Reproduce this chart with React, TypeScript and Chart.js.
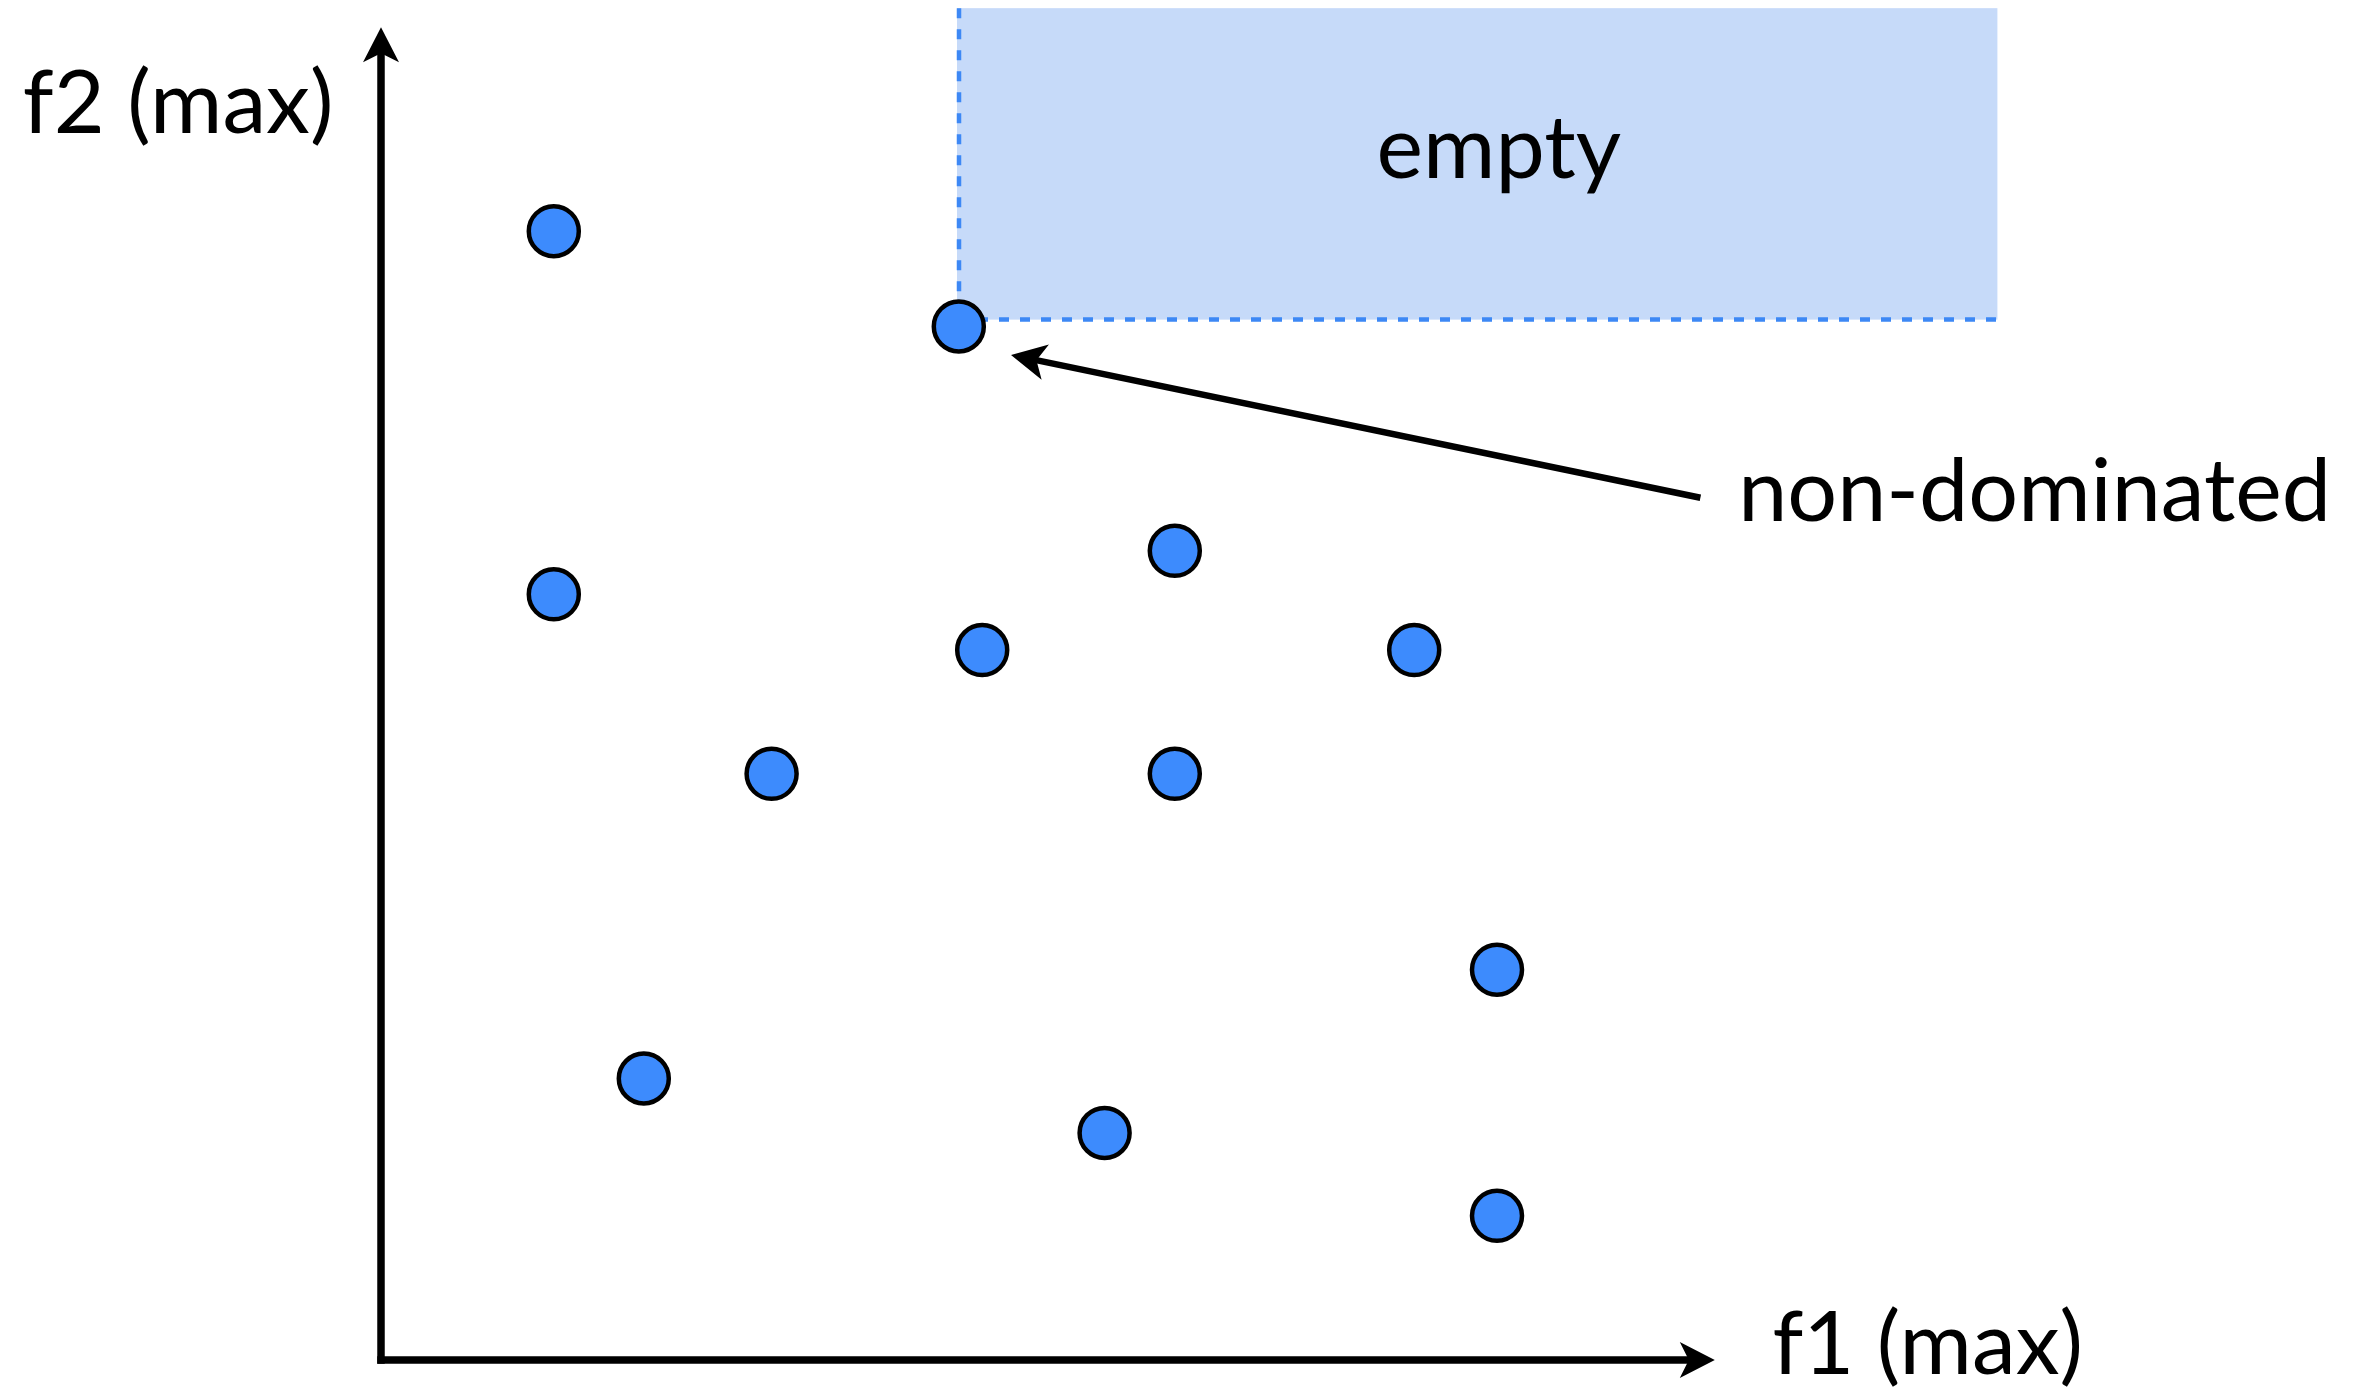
import React, { useEffect, useRef } from "react";
import { Chart, registerables } from "chart.js";

Chart.register(...registerables);

// f1 (x) and f2 (y) values of the solutions, both maximised
const f1Values = [0.96, 3.21, 0.96, 4.41, 3.34, 5.74, 2.17, 4.41, 6.2, 1.46, 4.02, 6.2];
const f2Values = [8.3, 7.6, 5.63, 5.95, 5.22, 5.22, 4.31, 4.31, 2.87, 2.07, 1.67, 1.06];

// axis extents (data units)
const xAxisEnd = 7.41;
const yAxisEnd = 9.8;

// "empty" dominated region (data units)
const emptyRegionX = [3.2, 8.98];
const emptyRegionY = [7.65, 9.94];

// annotation arrow: from label to the non-dominated point
const annotationFrom = [7.33, 6.34];
const annotationTo = [3.5, 7.39];

const labels = {
  xAxis: "f1 (max)",
  yAxis: "f2 (max)",
  empty: "empty",
  nonDominated: "non-dominated",
};
const xAxisLabelPos = [7.73, -0.1];
const yAxisLabelPos = [-1.99, 9.02];
const emptyLabelPos = [6.21, 8.69];
const nonDominatedLabelPos = [7.54, 6.17];

const FONT = "Lato, 'Open Sans', sans-serif";

function arrowHead(ctx: CanvasRenderingContext2D, x: number, y: number, angle: number) {
  const len = 35;
  const half = 18;
  const notch = 9;
  ctx.save();
  ctx.translate(x, y);
  ctx.rotate(angle);
  ctx.beginPath();
  ctx.moveTo(0, 0);
  ctx.lineTo(-len, -half);
  ctx.lineTo(-len + notch, 0);
  ctx.lineTo(-len, half);
  ctx.closePath();
  ctx.fillStyle = "#000";
  ctx.fill();
  ctx.restore();
}

const backgroundPlugin = {
  id: "paretoBackground",
  beforeDatasetsDraw(chart: any) {
    const { ctx, scales } = chart;
    const xs = scales.x;
    const ys = scales.y;
    ctx.save();
    // empty region
    const x0 = xs.getPixelForValue(emptyRegionX[0]);
    const x1 = xs.getPixelForValue(emptyRegionX[1]);
    const y0 = ys.getPixelForValue(emptyRegionY[0]);
    const y1 = ys.getPixelForValue(emptyRegionY[1]);
    ctx.fillStyle = "#c6daf9";
    ctx.fillRect(x0, y1, x1 - x0, y0 - y1);
    ctx.strokeStyle = "#3d88f5";
    ctx.lineWidth = 4.5;
    ctx.setLineDash([10, 11]);
    ctx.beginPath();
    ctx.moveTo(x0 + 2, y1);
    ctx.lineTo(x0 + 2, y0);
    ctx.stroke();
    ctx.beginPath();
    ctx.moveTo(x0, y0);
    ctx.lineTo(x1, y0);
    ctx.stroke();
    ctx.setLineDash([]);

    // axes
    const ox = xs.getPixelForValue(0);
    const oy = ys.getPixelForValue(0);
    const xe = xs.getPixelForValue(xAxisEnd);
    const ye = ys.getPixelForValue(yAxisEnd);
    ctx.strokeStyle = "#000";
    ctx.lineWidth = 7.5;
    ctx.lineCap = "butt";
    ctx.beginPath();
    ctx.moveTo(ox, oy + 3.75);
    ctx.lineTo(ox, ye + 20);
    ctx.stroke();
    ctx.beginPath();
    ctx.moveTo(ox - 3.75, oy);
    ctx.lineTo(xe - 20, oy);
    ctx.stroke();
    arrowHead(ctx, ox, ye, -Math.PI / 2);
    arrowHead(ctx, xe, oy, 0);
    ctx.restore();
  },
  afterDatasetsDraw(chart: any) {
    const { ctx, scales } = chart;
    const xs = scales.x;
    const ys = scales.y;
    ctx.save();
    // annotation arrow
    const ax0 = xs.getPixelForValue(annotationFrom[0]);
    const ay0 = ys.getPixelForValue(annotationFrom[1]);
    const ax1 = xs.getPixelForValue(annotationTo[0]);
    const ay1 = ys.getPixelForValue(annotationTo[1]);
    const ang = Math.atan2(ay1 - ay0, ax1 - ax0);
    ctx.strokeStyle = "#000";
    ctx.lineWidth = 6.5;
    ctx.beginPath();
    ctx.moveTo(ax0, ay0);
    ctx.lineTo(ax1 - Math.cos(ang) * 22, ay1 - Math.sin(ang) * 22);
    ctx.stroke();
    arrowHead(ctx, ax1, ay1, ang);

    // texts
    ctx.fillStyle = "#000";
    ctx.font = `400 88px ${FONT}`;
    ctx.textBaseline = "alphabetic";
    ctx.textAlign = "left";
    ctx.fillText(labels.nonDominated, xs.getPixelForValue(nonDominatedLabelPos[0]), ys.getPixelForValue(nonDominatedLabelPos[1]));
    ctx.fillText(labels.xAxis, xs.getPixelForValue(xAxisLabelPos[0]), ys.getPixelForValue(xAxisLabelPos[1]));
    ctx.fillText(labels.yAxis, xs.getPixelForValue(yAxisLabelPos[0]), ys.getPixelForValue(yAxisLabelPos[1]));
    ctx.textAlign = "center";
    ctx.fillText(labels.empty, xs.getPixelForValue(emptyLabelPos[0]), ys.getPixelForValue(emptyLabelPos[1]));
    ctx.restore();
  },
};

export default function App() {
  const ref = useRef<HTMLCanvasElement | null>(null);
  useEffect(() => {
    document.body.style.margin = "0";
    const canvas = ref.current;
    if (!canvas) return;
    const chart = new Chart(canvas, {
      type: "scatter",
      data: {
        datasets: [
          {
            data: f1Values.map((x, i) => ({ x, y: f2Values[i] })),
            pointBackgroundColor: "#3d8bfd",
            pointBorderColor: "#000",
            pointBorderWidth: 4.5,
            pointRadius: 25,
            pointHoverRadius: 25,
            clip: false as any,
          },
        ],
      },
      options: {
        responsive: false,
        animation: false,
        events: [],
        layout: { autoPadding: false, padding: { left: 381, right: 188, top: 0, bottom: 27 } },
        plugins: { legend: { display: false }, tooltip: { enabled: false } },
        scales: {
          x: { type: "linear", min: 0, max: 10, display: false },
          y: { type: "linear", min: 0, max: 10, display: false },
        },
      },
      plugins: [backgroundPlugin],
    });
    return () => chart.destroy();
  }, []);
  return (
    <div style={{ width: 2369, height: 1387, background: "#fff" }}>
      <canvas ref={ref} width={2369} height={1387} style={{ display: "block" }} />
    </div>
  );
}
